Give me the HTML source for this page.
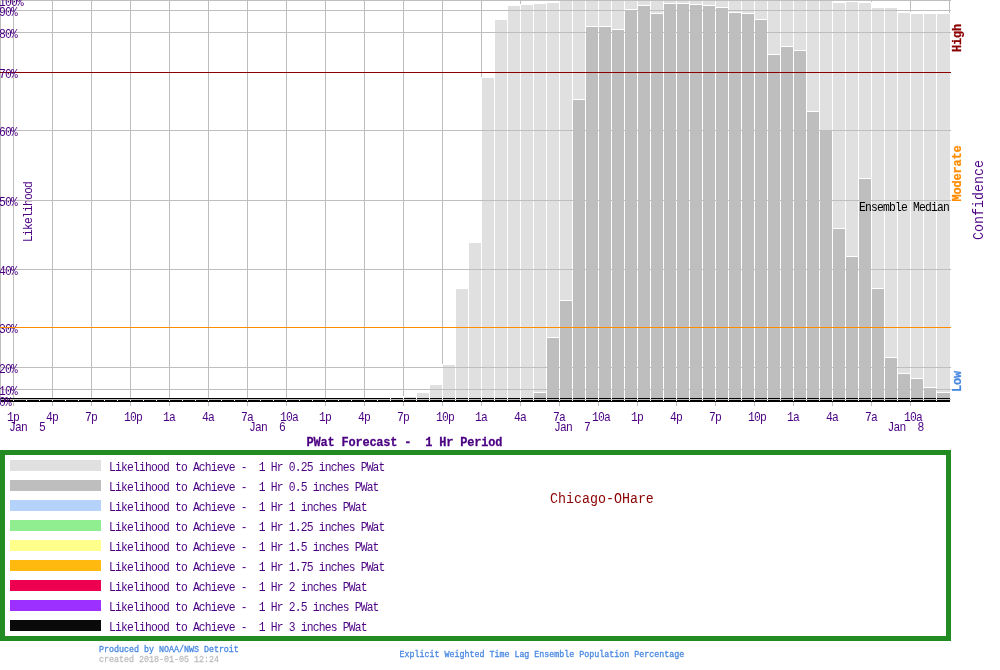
<!DOCTYPE html>
<html lang="en"><head><meta charset="utf-8"><title>PWat Forecast - 1 Hr Period - Chicago-OHare</title>
<style>
html,body{margin:0;padding:0;background:#fff;overflow:hidden}
svg{display:block}
text{white-space:pre}
</style></head><body>
<svg width="1000" height="670" viewBox="0 0 1000 670">
<rect x="0" y="0" width="1000" height="670" fill="#FFFFFF"/>
<g shape-rendering="crispEdges">
<rect x="0" y="0" width="1" height="400" fill="#BEBEBE"/>
<rect x="13" y="0" width="1" height="406" fill="#BEBEBE"/>
<rect x="52" y="0" width="1" height="406" fill="#BEBEBE"/>
<rect x="91" y="0" width="1" height="406" fill="#BEBEBE"/>
<rect x="130" y="0" width="1" height="406" fill="#BEBEBE"/>
<rect x="169" y="0" width="1" height="406" fill="#BEBEBE"/>
<rect x="208" y="0" width="1" height="406" fill="#BEBEBE"/>
<rect x="247" y="0" width="1" height="406" fill="#BEBEBE"/>
<rect x="286" y="0" width="1" height="406" fill="#BEBEBE"/>
<rect x="325" y="0" width="1" height="406" fill="#BEBEBE"/>
<rect x="364" y="0" width="1" height="406" fill="#BEBEBE"/>
<rect x="403" y="0" width="1" height="406" fill="#BEBEBE"/>
<rect x="442" y="0" width="1" height="406" fill="#BEBEBE"/>
<rect x="481" y="0" width="1" height="406" fill="#BEBEBE"/>
<rect x="520" y="0" width="1" height="406" fill="#BEBEBE"/>
<rect x="559" y="0" width="1" height="406" fill="#BEBEBE"/>
<rect x="598" y="0" width="1" height="406" fill="#BEBEBE"/>
<rect x="637" y="0" width="1" height="406" fill="#BEBEBE"/>
<rect x="676" y="0" width="1" height="406" fill="#BEBEBE"/>
<rect x="715" y="0" width="1" height="406" fill="#BEBEBE"/>
<rect x="754" y="0" width="1" height="406" fill="#BEBEBE"/>
<rect x="793" y="0" width="1" height="406" fill="#BEBEBE"/>
<rect x="832" y="0" width="1" height="406" fill="#BEBEBE"/>
<rect x="871" y="0" width="1" height="406" fill="#BEBEBE"/>
<rect x="910" y="0" width="1" height="406" fill="#BEBEBE"/>
<rect x="949" y="0" width="1" height="400" fill="#BEBEBE"/>
</g>
<text transform="translate(32,242) rotate(-90) scale(0.9,1)" font-family="'Liberation Mono', monospace" font-size="12.6" font-weight="normal" fill="#4B0082" letter-spacing="-0.893" xml:space="preserve">Likelihood</text>
<g shape-rendering="crispEdges">
<rect x="403" y="396" width="14" height="2" fill="#FFFFFF"/>
<rect x="404" y="397" width="12" height="1" fill="#E0E0E0"/>
<rect x="416" y="392" width="14" height="6" fill="#FFFFFF"/>
<rect x="417" y="393" width="12" height="5" fill="#E0E0E0"/>
<rect x="429" y="384" width="14" height="14" fill="#FFFFFF"/>
<rect x="430" y="385" width="12" height="13" fill="#E0E0E0"/>
<rect x="442" y="364" width="14" height="34" fill="#FFFFFF"/>
<rect x="443" y="365" width="12" height="33" fill="#E0E0E0"/>
<rect x="455" y="288" width="14" height="110" fill="#FFFFFF"/>
<rect x="456" y="289" width="12" height="109" fill="#E0E0E0"/>
<rect x="468" y="242" width="14" height="156" fill="#FFFFFF"/>
<rect x="469" y="243" width="12" height="155" fill="#E0E0E0"/>
<rect x="481" y="77" width="14" height="321" fill="#FFFFFF"/>
<rect x="482" y="78" width="12" height="320" fill="#E0E0E0"/>
<rect x="494" y="19" width="14" height="379" fill="#FFFFFF"/>
<rect x="495" y="20" width="12" height="378" fill="#E0E0E0"/>
<rect x="507" y="5" width="14" height="393" fill="#FFFFFF"/>
<rect x="508" y="6" width="12" height="392" fill="#E0E0E0"/>
<rect x="520" y="4" width="14" height="394" fill="#FFFFFF"/>
<rect x="521" y="5" width="12" height="393" fill="#E0E0E0"/>
<rect x="533" y="3" width="14" height="395" fill="#FFFFFF"/>
<rect x="534" y="4" width="12" height="394" fill="#E0E0E0"/>
<rect x="546" y="2" width="14" height="396" fill="#FFFFFF"/>
<rect x="547" y="3" width="12" height="395" fill="#E0E0E0"/>
<rect x="559" y="0" width="14" height="398" fill="#FFFFFF"/>
<rect x="560" y="1" width="12" height="397" fill="#E0E0E0"/>
<rect x="572" y="0" width="14" height="398" fill="#FFFFFF"/>
<rect x="573" y="1" width="12" height="397" fill="#E0E0E0"/>
<rect x="585" y="0" width="14" height="398" fill="#FFFFFF"/>
<rect x="586" y="1" width="12" height="397" fill="#E0E0E0"/>
<rect x="598" y="0" width="14" height="398" fill="#FFFFFF"/>
<rect x="599" y="1" width="12" height="397" fill="#E0E0E0"/>
<rect x="611" y="0" width="14" height="398" fill="#FFFFFF"/>
<rect x="612" y="1" width="12" height="397" fill="#E0E0E0"/>
<rect x="624" y="0" width="14" height="398" fill="#FFFFFF"/>
<rect x="625" y="1" width="12" height="397" fill="#E0E0E0"/>
<rect x="637" y="0" width="14" height="398" fill="#FFFFFF"/>
<rect x="638" y="1" width="12" height="397" fill="#E0E0E0"/>
<rect x="650" y="0" width="14" height="398" fill="#FFFFFF"/>
<rect x="651" y="1" width="12" height="397" fill="#E0E0E0"/>
<rect x="663" y="0" width="14" height="398" fill="#FFFFFF"/>
<rect x="664" y="1" width="12" height="397" fill="#E0E0E0"/>
<rect x="676" y="0" width="14" height="398" fill="#FFFFFF"/>
<rect x="677" y="1" width="12" height="397" fill="#E0E0E0"/>
<rect x="689" y="0" width="14" height="398" fill="#FFFFFF"/>
<rect x="690" y="1" width="12" height="397" fill="#E0E0E0"/>
<rect x="702" y="0" width="14" height="398" fill="#FFFFFF"/>
<rect x="703" y="1" width="12" height="397" fill="#E0E0E0"/>
<rect x="715" y="0" width="14" height="398" fill="#FFFFFF"/>
<rect x="716" y="1" width="12" height="397" fill="#E0E0E0"/>
<rect x="728" y="0" width="14" height="398" fill="#FFFFFF"/>
<rect x="729" y="1" width="12" height="397" fill="#E0E0E0"/>
<rect x="741" y="0" width="14" height="398" fill="#FFFFFF"/>
<rect x="742" y="1" width="12" height="397" fill="#E0E0E0"/>
<rect x="754" y="0" width="14" height="398" fill="#FFFFFF"/>
<rect x="755" y="1" width="12" height="397" fill="#E0E0E0"/>
<rect x="767" y="0" width="14" height="398" fill="#FFFFFF"/>
<rect x="768" y="1" width="12" height="397" fill="#E0E0E0"/>
<rect x="780" y="0" width="14" height="398" fill="#FFFFFF"/>
<rect x="781" y="1" width="12" height="397" fill="#E0E0E0"/>
<rect x="793" y="0" width="14" height="398" fill="#FFFFFF"/>
<rect x="794" y="1" width="12" height="397" fill="#E0E0E0"/>
<rect x="806" y="0" width="14" height="398" fill="#FFFFFF"/>
<rect x="807" y="1" width="12" height="397" fill="#E0E0E0"/>
<rect x="819" y="0" width="14" height="398" fill="#FFFFFF"/>
<rect x="820" y="1" width="12" height="397" fill="#E0E0E0"/>
<rect x="832" y="2" width="14" height="396" fill="#FFFFFF"/>
<rect x="833" y="3" width="12" height="395" fill="#E0E0E0"/>
<rect x="845" y="1" width="14" height="397" fill="#FFFFFF"/>
<rect x="846" y="2" width="12" height="396" fill="#E0E0E0"/>
<rect x="858" y="2" width="14" height="396" fill="#FFFFFF"/>
<rect x="859" y="3" width="12" height="395" fill="#E0E0E0"/>
<rect x="871" y="7" width="14" height="391" fill="#FFFFFF"/>
<rect x="872" y="8" width="12" height="390" fill="#E0E0E0"/>
<rect x="884" y="7" width="14" height="391" fill="#FFFFFF"/>
<rect x="885" y="8" width="12" height="390" fill="#E0E0E0"/>
<rect x="897" y="12" width="14" height="386" fill="#FFFFFF"/>
<rect x="898" y="13" width="12" height="385" fill="#E0E0E0"/>
<rect x="910" y="13" width="14" height="385" fill="#FFFFFF"/>
<rect x="911" y="14" width="12" height="384" fill="#E0E0E0"/>
<rect x="923" y="13" width="14" height="385" fill="#FFFFFF"/>
<rect x="924" y="14" width="12" height="384" fill="#E0E0E0"/>
<rect x="936" y="13" width="14" height="385" fill="#FFFFFF"/>
<rect x="937" y="14" width="13" height="384" fill="#E0E0E0"/>
<rect x="533" y="392" width="14" height="6" fill="#FFFFFF"/>
<rect x="534" y="393" width="12" height="5" fill="#BEBEBE"/>
<rect x="546" y="337" width="14" height="61" fill="#FFFFFF"/>
<rect x="547" y="338" width="12" height="60" fill="#BEBEBE"/>
<rect x="559" y="300" width="14" height="98" fill="#FFFFFF"/>
<rect x="560" y="301" width="12" height="97" fill="#BEBEBE"/>
<rect x="572" y="99" width="14" height="299" fill="#FFFFFF"/>
<rect x="573" y="100" width="12" height="298" fill="#BEBEBE"/>
<rect x="585" y="26" width="14" height="372" fill="#FFFFFF"/>
<rect x="586" y="27" width="12" height="371" fill="#BEBEBE"/>
<rect x="598" y="26" width="14" height="372" fill="#FFFFFF"/>
<rect x="599" y="27" width="12" height="371" fill="#BEBEBE"/>
<rect x="611" y="29" width="14" height="369" fill="#FFFFFF"/>
<rect x="612" y="30" width="12" height="368" fill="#BEBEBE"/>
<rect x="624" y="9" width="14" height="389" fill="#FFFFFF"/>
<rect x="625" y="10" width="12" height="388" fill="#BEBEBE"/>
<rect x="637" y="5" width="14" height="393" fill="#FFFFFF"/>
<rect x="638" y="6" width="12" height="392" fill="#BEBEBE"/>
<rect x="650" y="13" width="14" height="385" fill="#FFFFFF"/>
<rect x="651" y="14" width="12" height="384" fill="#BEBEBE"/>
<rect x="663" y="3" width="14" height="395" fill="#FFFFFF"/>
<rect x="664" y="4" width="12" height="394" fill="#BEBEBE"/>
<rect x="676" y="3" width="14" height="395" fill="#FFFFFF"/>
<rect x="677" y="4" width="12" height="394" fill="#BEBEBE"/>
<rect x="689" y="4" width="14" height="394" fill="#FFFFFF"/>
<rect x="690" y="5" width="12" height="393" fill="#BEBEBE"/>
<rect x="702" y="5" width="14" height="393" fill="#FFFFFF"/>
<rect x="703" y="6" width="12" height="392" fill="#BEBEBE"/>
<rect x="715" y="7" width="14" height="391" fill="#FFFFFF"/>
<rect x="716" y="8" width="12" height="390" fill="#BEBEBE"/>
<rect x="728" y="12" width="14" height="386" fill="#FFFFFF"/>
<rect x="729" y="13" width="12" height="385" fill="#BEBEBE"/>
<rect x="741" y="13" width="14" height="385" fill="#FFFFFF"/>
<rect x="742" y="14" width="12" height="384" fill="#BEBEBE"/>
<rect x="754" y="19" width="14" height="379" fill="#FFFFFF"/>
<rect x="755" y="20" width="12" height="378" fill="#BEBEBE"/>
<rect x="767" y="54" width="14" height="344" fill="#FFFFFF"/>
<rect x="768" y="55" width="12" height="343" fill="#BEBEBE"/>
<rect x="780" y="46" width="14" height="352" fill="#FFFFFF"/>
<rect x="781" y="47" width="12" height="351" fill="#BEBEBE"/>
<rect x="793" y="50" width="14" height="348" fill="#FFFFFF"/>
<rect x="794" y="51" width="12" height="347" fill="#BEBEBE"/>
<rect x="806" y="111" width="14" height="287" fill="#FFFFFF"/>
<rect x="807" y="112" width="12" height="286" fill="#BEBEBE"/>
<rect x="819" y="130" width="14" height="268" fill="#FFFFFF"/>
<rect x="820" y="131" width="12" height="267" fill="#BEBEBE"/>
<rect x="832" y="228" width="14" height="170" fill="#FFFFFF"/>
<rect x="833" y="229" width="12" height="169" fill="#BEBEBE"/>
<rect x="845" y="256" width="14" height="142" fill="#FFFFFF"/>
<rect x="846" y="257" width="12" height="141" fill="#BEBEBE"/>
<rect x="858" y="178" width="14" height="220" fill="#FFFFFF"/>
<rect x="859" y="179" width="12" height="219" fill="#BEBEBE"/>
<rect x="871" y="288" width="14" height="110" fill="#FFFFFF"/>
<rect x="872" y="289" width="12" height="109" fill="#BEBEBE"/>
<rect x="884" y="357" width="14" height="41" fill="#FFFFFF"/>
<rect x="885" y="358" width="12" height="40" fill="#BEBEBE"/>
<rect x="897" y="373" width="14" height="25" fill="#FFFFFF"/>
<rect x="898" y="374" width="12" height="24" fill="#BEBEBE"/>
<rect x="910" y="378" width="14" height="20" fill="#FFFFFF"/>
<rect x="911" y="379" width="12" height="19" fill="#BEBEBE"/>
<rect x="923" y="387" width="14" height="11" fill="#FFFFFF"/>
<rect x="924" y="388" width="12" height="10" fill="#BEBEBE"/>
<rect x="936" y="392" width="14" height="6" fill="#FFFFFF"/>
<rect x="937" y="393" width="13" height="5" fill="#BEBEBE"/>
<rect x="0" y="0" width="951" height="1" fill="#BEBEBE"/>
<rect x="0" y="10" width="951" height="1" fill="#BEBEBE"/>
<rect x="0" y="32" width="951" height="1" fill="#BEBEBE"/>
<rect x="0" y="130" width="951" height="1" fill="#BEBEBE"/>
<rect x="0" y="200" width="951" height="1" fill="#BEBEBE"/>
<rect x="0" y="269" width="951" height="1" fill="#BEBEBE"/>
<rect x="0" y="367" width="951" height="1" fill="#BEBEBE"/>
<rect x="0" y="389" width="951" height="1" fill="#BEBEBE"/>
<rect x="0" y="72" width="951" height="1" fill="#8B0000"/>
<rect x="1" y="398" width="949" height="1" fill="#000000"/>
<rect x="1" y="400" width="949" height="2" fill="#000000"/>
<rect x="13" y="400" width="1" height="1" fill="#FFFFFF"/>
<rect x="26" y="400" width="1" height="1" fill="#FFFFFF"/>
<rect x="39" y="400" width="1" height="1" fill="#FFFFFF"/>
<rect x="52" y="400" width="1" height="1" fill="#FFFFFF"/>
<rect x="65" y="400" width="1" height="1" fill="#FFFFFF"/>
<rect x="78" y="400" width="1" height="1" fill="#FFFFFF"/>
<rect x="91" y="400" width="1" height="1" fill="#FFFFFF"/>
<rect x="104" y="400" width="1" height="1" fill="#FFFFFF"/>
<rect x="117" y="400" width="1" height="1" fill="#FFFFFF"/>
<rect x="130" y="400" width="1" height="1" fill="#FFFFFF"/>
<rect x="143" y="400" width="1" height="1" fill="#FFFFFF"/>
<rect x="156" y="400" width="1" height="1" fill="#FFFFFF"/>
<rect x="169" y="400" width="1" height="1" fill="#FFFFFF"/>
<rect x="182" y="400" width="1" height="1" fill="#FFFFFF"/>
<rect x="195" y="400" width="1" height="1" fill="#FFFFFF"/>
<rect x="208" y="400" width="1" height="1" fill="#FFFFFF"/>
<rect x="221" y="400" width="1" height="1" fill="#FFFFFF"/>
<rect x="234" y="400" width="1" height="1" fill="#FFFFFF"/>
<rect x="247" y="400" width="1" height="1" fill="#FFFFFF"/>
<rect x="260" y="400" width="1" height="1" fill="#FFFFFF"/>
<rect x="273" y="400" width="1" height="1" fill="#FFFFFF"/>
<rect x="286" y="400" width="1" height="1" fill="#FFFFFF"/>
<rect x="299" y="400" width="1" height="1" fill="#FFFFFF"/>
<rect x="312" y="400" width="1" height="1" fill="#FFFFFF"/>
<rect x="325" y="400" width="1" height="1" fill="#FFFFFF"/>
<rect x="338" y="400" width="1" height="1" fill="#FFFFFF"/>
<rect x="351" y="400" width="1" height="1" fill="#FFFFFF"/>
<rect x="364" y="400" width="1" height="1" fill="#FFFFFF"/>
<rect x="377" y="400" width="1" height="1" fill="#FFFFFF"/>
<rect x="390" y="398" width="1" height="1" fill="#FFFFFF"/>
<rect x="390" y="400" width="1" height="1" fill="#FFFFFF"/>
<rect x="403" y="398" width="1" height="1" fill="#FFFFFF"/>
<rect x="403" y="400" width="1" height="1" fill="#FFFFFF"/>
<rect x="416" y="398" width="1" height="1" fill="#FFFFFF"/>
<rect x="416" y="400" width="1" height="1" fill="#FFFFFF"/>
<rect x="429" y="398" width="1" height="1" fill="#FFFFFF"/>
<rect x="429" y="400" width="1" height="1" fill="#FFFFFF"/>
<rect x="442" y="398" width="1" height="1" fill="#FFFFFF"/>
<rect x="442" y="400" width="1" height="1" fill="#FFFFFF"/>
<rect x="455" y="398" width="1" height="1" fill="#FFFFFF"/>
<rect x="455" y="400" width="1" height="1" fill="#FFFFFF"/>
<rect x="468" y="398" width="1" height="1" fill="#FFFFFF"/>
<rect x="468" y="400" width="1" height="1" fill="#FFFFFF"/>
<rect x="481" y="398" width="1" height="1" fill="#FFFFFF"/>
<rect x="481" y="400" width="1" height="1" fill="#FFFFFF"/>
<rect x="494" y="398" width="1" height="1" fill="#FFFFFF"/>
<rect x="494" y="400" width="1" height="1" fill="#FFFFFF"/>
<rect x="507" y="398" width="1" height="1" fill="#FFFFFF"/>
<rect x="507" y="400" width="1" height="1" fill="#FFFFFF"/>
<rect x="520" y="398" width="1" height="1" fill="#FFFFFF"/>
<rect x="520" y="400" width="1" height="1" fill="#FFFFFF"/>
<rect x="533" y="398" width="1" height="1" fill="#FFFFFF"/>
<rect x="533" y="400" width="1" height="1" fill="#FFFFFF"/>
<rect x="546" y="398" width="1" height="1" fill="#FFFFFF"/>
<rect x="546" y="400" width="1" height="1" fill="#FFFFFF"/>
<rect x="559" y="398" width="1" height="1" fill="#FFFFFF"/>
<rect x="559" y="400" width="1" height="1" fill="#FFFFFF"/>
<rect x="572" y="398" width="1" height="1" fill="#FFFFFF"/>
<rect x="572" y="400" width="1" height="1" fill="#FFFFFF"/>
<rect x="585" y="398" width="1" height="1" fill="#FFFFFF"/>
<rect x="585" y="400" width="1" height="1" fill="#FFFFFF"/>
<rect x="598" y="398" width="1" height="1" fill="#FFFFFF"/>
<rect x="598" y="400" width="1" height="1" fill="#FFFFFF"/>
<rect x="611" y="398" width="1" height="1" fill="#FFFFFF"/>
<rect x="611" y="400" width="1" height="1" fill="#FFFFFF"/>
<rect x="624" y="398" width="1" height="1" fill="#FFFFFF"/>
<rect x="624" y="400" width="1" height="1" fill="#FFFFFF"/>
<rect x="637" y="398" width="1" height="1" fill="#FFFFFF"/>
<rect x="637" y="400" width="1" height="1" fill="#FFFFFF"/>
<rect x="650" y="398" width="1" height="1" fill="#FFFFFF"/>
<rect x="650" y="400" width="1" height="1" fill="#FFFFFF"/>
<rect x="663" y="398" width="1" height="1" fill="#FFFFFF"/>
<rect x="663" y="400" width="1" height="1" fill="#FFFFFF"/>
<rect x="676" y="398" width="1" height="1" fill="#FFFFFF"/>
<rect x="676" y="400" width="1" height="1" fill="#FFFFFF"/>
<rect x="689" y="398" width="1" height="1" fill="#FFFFFF"/>
<rect x="689" y="400" width="1" height="1" fill="#FFFFFF"/>
<rect x="702" y="398" width="1" height="1" fill="#FFFFFF"/>
<rect x="702" y="400" width="1" height="1" fill="#FFFFFF"/>
<rect x="715" y="398" width="1" height="1" fill="#FFFFFF"/>
<rect x="715" y="400" width="1" height="1" fill="#FFFFFF"/>
<rect x="728" y="398" width="1" height="1" fill="#FFFFFF"/>
<rect x="728" y="400" width="1" height="1" fill="#FFFFFF"/>
<rect x="741" y="398" width="1" height="1" fill="#FFFFFF"/>
<rect x="741" y="400" width="1" height="1" fill="#FFFFFF"/>
<rect x="754" y="398" width="1" height="1" fill="#FFFFFF"/>
<rect x="754" y="400" width="1" height="1" fill="#FFFFFF"/>
<rect x="767" y="398" width="1" height="1" fill="#FFFFFF"/>
<rect x="767" y="400" width="1" height="1" fill="#FFFFFF"/>
<rect x="780" y="398" width="1" height="1" fill="#FFFFFF"/>
<rect x="780" y="400" width="1" height="1" fill="#FFFFFF"/>
<rect x="793" y="398" width="1" height="1" fill="#FFFFFF"/>
<rect x="793" y="400" width="1" height="1" fill="#FFFFFF"/>
<rect x="806" y="398" width="1" height="1" fill="#FFFFFF"/>
<rect x="806" y="400" width="1" height="1" fill="#FFFFFF"/>
<rect x="819" y="398" width="1" height="1" fill="#FFFFFF"/>
<rect x="819" y="400" width="1" height="1" fill="#FFFFFF"/>
<rect x="832" y="398" width="1" height="1" fill="#FFFFFF"/>
<rect x="832" y="400" width="1" height="1" fill="#FFFFFF"/>
<rect x="845" y="398" width="1" height="1" fill="#FFFFFF"/>
<rect x="845" y="400" width="1" height="1" fill="#FFFFFF"/>
<rect x="858" y="398" width="1" height="1" fill="#FFFFFF"/>
<rect x="858" y="400" width="1" height="1" fill="#FFFFFF"/>
<rect x="871" y="398" width="1" height="1" fill="#FFFFFF"/>
<rect x="871" y="400" width="1" height="1" fill="#FFFFFF"/>
<rect x="884" y="398" width="1" height="1" fill="#FFFFFF"/>
<rect x="884" y="400" width="1" height="1" fill="#FFFFFF"/>
<rect x="897" y="398" width="1" height="1" fill="#FFFFFF"/>
<rect x="897" y="400" width="1" height="1" fill="#FFFFFF"/>
<rect x="910" y="398" width="1" height="1" fill="#FFFFFF"/>
<rect x="910" y="400" width="1" height="1" fill="#FFFFFF"/>
<rect x="923" y="398" width="1" height="1" fill="#FFFFFF"/>
<rect x="923" y="400" width="1" height="1" fill="#FFFFFF"/>
<rect x="936" y="398" width="1" height="1" fill="#FFFFFF"/>
<rect x="936" y="400" width="1" height="1" fill="#FFFFFF"/>
<rect x="0" y="399" width="951" height="1" fill="#BEBEBE"/>
</g>
<text transform="translate(-1,6) scale(0.9,1)" font-family="'Liberation Mono', monospace" font-size="12.6" font-weight="normal" fill="#4B0082" letter-spacing="-0.893" xml:space="preserve">100%</text>
<text transform="translate(-1,16) scale(0.9,1)" font-family="'Liberation Mono', monospace" font-size="12.6" font-weight="normal" fill="#4B0082" letter-spacing="-0.893" xml:space="preserve">90%</text>
<text transform="translate(-1,38) scale(0.9,1)" font-family="'Liberation Mono', monospace" font-size="12.6" font-weight="normal" fill="#4B0082" letter-spacing="-0.893" xml:space="preserve">80%</text>
<text transform="translate(-1,78) scale(0.9,1)" font-family="'Liberation Mono', monospace" font-size="12.6" font-weight="normal" fill="#4B0082" letter-spacing="-0.893" xml:space="preserve">70%</text>
<text transform="translate(-1,136) scale(0.9,1)" font-family="'Liberation Mono', monospace" font-size="12.6" font-weight="normal" fill="#4B0082" letter-spacing="-0.893" xml:space="preserve">60%</text>
<text transform="translate(-1,206) scale(0.9,1)" font-family="'Liberation Mono', monospace" font-size="12.6" font-weight="normal" fill="#4B0082" letter-spacing="-0.893" xml:space="preserve">50%</text>
<text transform="translate(-1,275) scale(0.9,1)" font-family="'Liberation Mono', monospace" font-size="12.6" font-weight="normal" fill="#4B0082" letter-spacing="-0.893" xml:space="preserve">40%</text>
<text transform="translate(-1,333) scale(0.9,1)" font-family="'Liberation Mono', monospace" font-size="12.6" font-weight="normal" fill="#4B0082" letter-spacing="-0.893" xml:space="preserve">30%</text>
<text transform="translate(-1,373) scale(0.9,1)" font-family="'Liberation Mono', monospace" font-size="12.6" font-weight="normal" fill="#4B0082" letter-spacing="-0.893" xml:space="preserve">20%</text>
<text transform="translate(-1,395) scale(0.9,1)" font-family="'Liberation Mono', monospace" font-size="12.6" font-weight="normal" fill="#4B0082" letter-spacing="-0.893" xml:space="preserve">10%</text>
<text transform="translate(-1,406) scale(0.9,1)" font-family="'Liberation Mono', monospace" font-size="12.6" font-weight="normal" fill="#4B0082" letter-spacing="-0.893" xml:space="preserve">0%</text>
<rect x="0" y="327" width="951" height="1" fill="#FF8C00" shape-rendering="crispEdges"/>
<text transform="translate(961,52) rotate(-90) scale(0.95,1)" font-family="'Liberation Mono', monospace" font-size="12.6" font-weight="bold" fill="#8B0000" stroke="#8B0000" stroke-width="0.25" letter-spacing="-0.192" xml:space="preserve">High</text>
<text transform="translate(961,201.5) rotate(-90) scale(0.95,1)" font-family="'Liberation Mono', monospace" font-size="12.6" font-weight="bold" fill="#FF8C00" stroke="#FF8C00" stroke-width="0.25" letter-spacing="-0.192" xml:space="preserve">Moderate</text>
<text transform="translate(961,392) rotate(-90) scale(0.95,1)" font-family="'Liberation Mono', monospace" font-size="12.6" font-weight="bold" fill="#4888E0" stroke="#4888E0" stroke-width="0.25" letter-spacing="-0.192" xml:space="preserve">Low</text>
<text transform="translate(983,240) rotate(-90) scale(0.86,1)" font-family="'Liberation Mono', monospace" font-size="15.5" font-weight="normal" fill="#4B0082" xml:space="preserve">Confidence</text>
<text transform="translate(859,211) scale(0.9,1)" font-family="'Liberation Mono', monospace" font-size="12.6" font-weight="normal" fill="#000000" letter-spacing="-0.893" xml:space="preserve">Ensemble Median</text>
<text transform="translate(7,421) scale(0.9,1)" font-family="'Liberation Mono', monospace" font-size="12.6" font-weight="normal" fill="#4B0082" letter-spacing="-0.893" xml:space="preserve">1p</text>
<text transform="translate(46,421) scale(0.9,1)" font-family="'Liberation Mono', monospace" font-size="12.6" font-weight="normal" fill="#4B0082" letter-spacing="-0.893" xml:space="preserve">4p</text>
<text transform="translate(85,421) scale(0.9,1)" font-family="'Liberation Mono', monospace" font-size="12.6" font-weight="normal" fill="#4B0082" letter-spacing="-0.893" xml:space="preserve">7p</text>
<text transform="translate(124,421) scale(0.9,1)" font-family="'Liberation Mono', monospace" font-size="12.6" font-weight="normal" fill="#4B0082" letter-spacing="-0.893" xml:space="preserve">10p</text>
<text transform="translate(163,421) scale(0.9,1)" font-family="'Liberation Mono', monospace" font-size="12.6" font-weight="normal" fill="#4B0082" letter-spacing="-0.893" xml:space="preserve">1a</text>
<text transform="translate(202,421) scale(0.9,1)" font-family="'Liberation Mono', monospace" font-size="12.6" font-weight="normal" fill="#4B0082" letter-spacing="-0.893" xml:space="preserve">4a</text>
<text transform="translate(241,421) scale(0.9,1)" font-family="'Liberation Mono', monospace" font-size="12.6" font-weight="normal" fill="#4B0082" letter-spacing="-0.893" xml:space="preserve">7a</text>
<text transform="translate(280,421) scale(0.9,1)" font-family="'Liberation Mono', monospace" font-size="12.6" font-weight="normal" fill="#4B0082" letter-spacing="-0.893" xml:space="preserve">10a</text>
<text transform="translate(319,421) scale(0.9,1)" font-family="'Liberation Mono', monospace" font-size="12.6" font-weight="normal" fill="#4B0082" letter-spacing="-0.893" xml:space="preserve">1p</text>
<text transform="translate(358,421) scale(0.9,1)" font-family="'Liberation Mono', monospace" font-size="12.6" font-weight="normal" fill="#4B0082" letter-spacing="-0.893" xml:space="preserve">4p</text>
<text transform="translate(397,421) scale(0.9,1)" font-family="'Liberation Mono', monospace" font-size="12.6" font-weight="normal" fill="#4B0082" letter-spacing="-0.893" xml:space="preserve">7p</text>
<text transform="translate(436,421) scale(0.9,1)" font-family="'Liberation Mono', monospace" font-size="12.6" font-weight="normal" fill="#4B0082" letter-spacing="-0.893" xml:space="preserve">10p</text>
<text transform="translate(475,421) scale(0.9,1)" font-family="'Liberation Mono', monospace" font-size="12.6" font-weight="normal" fill="#4B0082" letter-spacing="-0.893" xml:space="preserve">1a</text>
<text transform="translate(514,421) scale(0.9,1)" font-family="'Liberation Mono', monospace" font-size="12.6" font-weight="normal" fill="#4B0082" letter-spacing="-0.893" xml:space="preserve">4a</text>
<text transform="translate(553,421) scale(0.9,1)" font-family="'Liberation Mono', monospace" font-size="12.6" font-weight="normal" fill="#4B0082" letter-spacing="-0.893" xml:space="preserve">7a</text>
<text transform="translate(592,421) scale(0.9,1)" font-family="'Liberation Mono', monospace" font-size="12.6" font-weight="normal" fill="#4B0082" letter-spacing="-0.893" xml:space="preserve">10a</text>
<text transform="translate(631,421) scale(0.9,1)" font-family="'Liberation Mono', monospace" font-size="12.6" font-weight="normal" fill="#4B0082" letter-spacing="-0.893" xml:space="preserve">1p</text>
<text transform="translate(670,421) scale(0.9,1)" font-family="'Liberation Mono', monospace" font-size="12.6" font-weight="normal" fill="#4B0082" letter-spacing="-0.893" xml:space="preserve">4p</text>
<text transform="translate(709,421) scale(0.9,1)" font-family="'Liberation Mono', monospace" font-size="12.6" font-weight="normal" fill="#4B0082" letter-spacing="-0.893" xml:space="preserve">7p</text>
<text transform="translate(748,421) scale(0.9,1)" font-family="'Liberation Mono', monospace" font-size="12.6" font-weight="normal" fill="#4B0082" letter-spacing="-0.893" xml:space="preserve">10p</text>
<text transform="translate(787,421) scale(0.9,1)" font-family="'Liberation Mono', monospace" font-size="12.6" font-weight="normal" fill="#4B0082" letter-spacing="-0.893" xml:space="preserve">1a</text>
<text transform="translate(826,421) scale(0.9,1)" font-family="'Liberation Mono', monospace" font-size="12.6" font-weight="normal" fill="#4B0082" letter-spacing="-0.893" xml:space="preserve">4a</text>
<text transform="translate(865,421) scale(0.9,1)" font-family="'Liberation Mono', monospace" font-size="12.6" font-weight="normal" fill="#4B0082" letter-spacing="-0.893" xml:space="preserve">7a</text>
<text transform="translate(904,421) scale(0.9,1)" font-family="'Liberation Mono', monospace" font-size="12.6" font-weight="normal" fill="#4B0082" letter-spacing="-0.893" xml:space="preserve">10a</text>
<text transform="translate(9,431) scale(0.9,1)" font-family="'Liberation Mono', monospace" font-size="12.6" font-weight="normal" fill="#4B0082" letter-spacing="-0.893" xml:space="preserve">Jan  5</text>
<text transform="translate(249,431) scale(0.9,1)" font-family="'Liberation Mono', monospace" font-size="12.6" font-weight="normal" fill="#4B0082" letter-spacing="-0.893" xml:space="preserve">Jan  6</text>
<text transform="translate(554,431) scale(0.9,1)" font-family="'Liberation Mono', monospace" font-size="12.6" font-weight="normal" fill="#4B0082" letter-spacing="-0.893" xml:space="preserve">Jan  7</text>
<text transform="translate(887.5,431) scale(0.9,1)" font-family="'Liberation Mono', monospace" font-size="12.6" font-weight="normal" fill="#4B0082" letter-spacing="-0.893" xml:space="preserve">Jan  8</text>
<text transform="translate(306.5,446) scale(0.95,1)" font-family="'Liberation Mono', monospace" font-size="12.6" font-weight="bold" fill="#4B0082" stroke="#4B0082" stroke-width="0.25" letter-spacing="-0.192" xml:space="preserve">PWat Forecast -  1 Hr Period</text>
<g shape-rendering="crispEdges">
<rect x="0" y="450" width="951" height="191" fill="#228B22"/>
<rect x="5" y="455" width="941" height="181" fill="#FFFFFF"/>
<rect x="10" y="460" width="91" height="11" fill="#E0E0E0"/>
<rect x="10" y="480" width="91" height="11" fill="#BEBEBE"/>
<rect x="10" y="500" width="91" height="11" fill="#B4D2FA"/>
<rect x="10" y="520" width="91" height="11" fill="#90EE90"/>
<rect x="10" y="540" width="91" height="11" fill="#FFFF8C"/>
<rect x="10" y="560" width="91" height="11" fill="#FFB90F"/>
<rect x="10" y="580" width="91" height="11" fill="#EE0050"/>
<rect x="10" y="600" width="91" height="11" fill="#9B30FF"/>
<rect x="10" y="620" width="91" height="11" fill="#0A0A0A"/>
</g>
<text transform="translate(109,471) scale(0.9,1)" font-family="'Liberation Mono', monospace" font-size="12.6" font-weight="normal" fill="#4B0082" letter-spacing="-0.893" xml:space="preserve">Likelihood to Achieve -  1 Hr 0.25 inches PWat</text>
<text transform="translate(109,491) scale(0.9,1)" font-family="'Liberation Mono', monospace" font-size="12.6" font-weight="normal" fill="#4B0082" letter-spacing="-0.893" xml:space="preserve">Likelihood to Achieve -  1 Hr 0.5 inches PWat</text>
<text transform="translate(109,511) scale(0.9,1)" font-family="'Liberation Mono', monospace" font-size="12.6" font-weight="normal" fill="#4B0082" letter-spacing="-0.893" xml:space="preserve">Likelihood to Achieve -  1 Hr 1 inches PWat</text>
<text transform="translate(109,531) scale(0.9,1)" font-family="'Liberation Mono', monospace" font-size="12.6" font-weight="normal" fill="#4B0082" letter-spacing="-0.893" xml:space="preserve">Likelihood to Achieve -  1 Hr 1.25 inches PWat</text>
<text transform="translate(109,551) scale(0.9,1)" font-family="'Liberation Mono', monospace" font-size="12.6" font-weight="normal" fill="#4B0082" letter-spacing="-0.893" xml:space="preserve">Likelihood to Achieve -  1 Hr 1.5 inches PWat</text>
<text transform="translate(109,571) scale(0.9,1)" font-family="'Liberation Mono', monospace" font-size="12.6" font-weight="normal" fill="#4B0082" letter-spacing="-0.893" xml:space="preserve">Likelihood to Achieve -  1 Hr 1.75 inches PWat</text>
<text transform="translate(109,591) scale(0.9,1)" font-family="'Liberation Mono', monospace" font-size="12.6" font-weight="normal" fill="#4B0082" letter-spacing="-0.893" xml:space="preserve">Likelihood to Achieve -  1 Hr 2 inches PWat</text>
<text transform="translate(109,611) scale(0.9,1)" font-family="'Liberation Mono', monospace" font-size="12.6" font-weight="normal" fill="#4B0082" letter-spacing="-0.893" xml:space="preserve">Likelihood to Achieve -  1 Hr 2.5 inches PWat</text>
<text transform="translate(109,631) scale(0.9,1)" font-family="'Liberation Mono', monospace" font-size="12.6" font-weight="normal" fill="#4B0082" letter-spacing="-0.893" xml:space="preserve">Likelihood to Achieve -  1 Hr 3 inches PWat</text>
<text transform="translate(550,503) scale(0.86,1)" font-family="'Liberation Mono', monospace" font-size="15.5" font-weight="normal" fill="#8B0000" xml:space="preserve">Chicago-OHare</text>
<text transform="translate(99,652) scale(0.915,1)" font-family="'Liberation Mono', monospace" font-size="9.1" font-weight="normal" fill="#4888E0" stroke="#4888E0" stroke-width="0.3" xml:space="preserve">Produced by NOAA/NWS Detroit</text>
<text transform="translate(99,662) scale(0.915,1)" font-family="'Liberation Mono', monospace" font-size="9.1" font-weight="normal" fill="#BEBEBE" stroke="#BEBEBE" stroke-width="0.3" xml:space="preserve">created 2018-01-05 12:24</text>
<text transform="translate(399.5,657) scale(0.915,1)" font-family="'Liberation Mono', monospace" font-size="9.1" font-weight="normal" fill="#4888E0" stroke="#4888E0" stroke-width="0.3" xml:space="preserve">Explicit Weighted Time Lag Ensemble Population Percentage</text>
</svg>
</body></html>
